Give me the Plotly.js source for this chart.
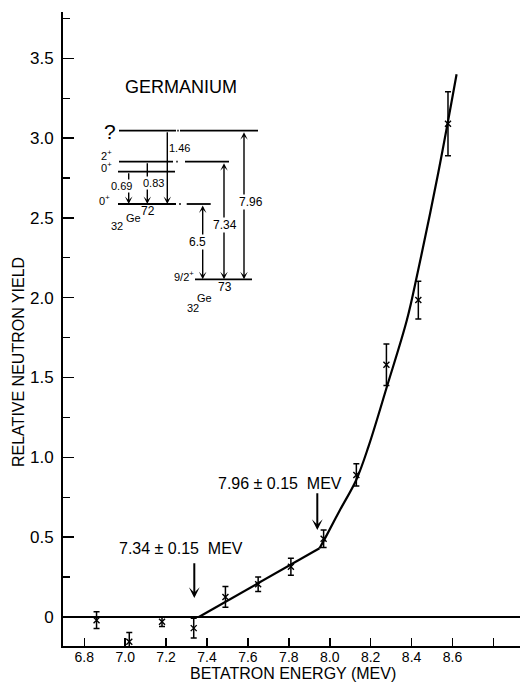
<!DOCTYPE html>
<html><head><meta charset="utf-8">
<script src="https://cdn.plot.ly/plotly-3.0.1.min.js"></script>
<style>html,body{margin:0;padding:0;background:#fff}#chart{width:520px;height:683px}</style>
</head><body><div id="chart"></div>
<script>
// ---- data ----
const energy    = [6.86, 7.02, 7.18, 7.335, 7.49, 7.65, 7.81, 7.97, 8.13, 8.277, 8.433, 8.578];
const yieldVals = [-0.02, -0.155, -0.03, -0.07, 0.125, 0.205, 0.315, 0.49, 0.89, 1.58, 1.985, 3.09];
const yieldErr  = [0.053, 0.057, 0.03, 0.062, 0.065, 0.045, 0.053, 0.055, 0.07, 0.13, 0.118, 0.2];
const linFitX   = [7.36, 7.95];
const linFitY   = [0, 0.43];
const curveFitX = [7.95, 7.98, 8.05, 8.13, 8.19, 8.28, 8.377, 8.43, 8.53, 8.62];
const curveFitY = [0.43, 0.50, 0.67, 0.86, 1.07, 1.445, 1.86, 2.16, 2.78, 3.40];
const xTickVals = [6.8, 7.0, 7.2, 7.4, 7.6, 7.8, 8.0, 8.2, 8.4, 8.6, 8.8];
const xTickText = ["6.8", "7.0", "7.2", "7.4", "7.6", "7.8", "8.0", "8.2", "8.4", "8.6", ""];
const yTickVals = [0, 0.5, 1.0, 1.5, 2.0, 2.5, 3.0, 3.5];
const yTickText = ["0", "0.5", "1.0", "1.5", "2.0", "2.5", "3.0", "3.5"];
const yMinorVals = [0.25, 0.75, 1.25, 1.75, 2.25, 2.75, 3.25, 3.75];

// ---- layout helpers (plot area: left 63, top 12, width 457, height 634) ----
const L = 63, T = 12, W = 457, H = 634;
const P = px => (px - L) / W;
const Q = py => (T + H - py) / H;
const FONT = "Liberation Sans, Arial, sans-serif";

const shapes = [];
function seg(x0, x1, y, w) {
  shapes.push({type: 'line', xref: 'paper', yref: 'paper', x0: P(x0), x1: P(x1), y0: Q(y), y1: Q(y),
               line: {color: 'black', width: w || 1.8}});
}
// energy level lines of the inset diagram
seg(119, 176, 130.7); seg(177.3, 178.7, 130.7); seg(180, 258, 130.7);
seg(119, 173, 161.7); seg(176.3, 177.7, 161.7); seg(185, 229, 161.7);
seg(118, 175, 171.7);
seg(118, 176, 204);   seg(179.3, 180.7, 204);   seg(186.7, 210.7, 204);
seg(195, 252, 279.3);

const annotations = [];
function arrow(x, yTail, yHead, both, w, size) {
  annotations.push({xref: 'paper', yref: 'paper', x: P(x), y: Q(yHead), ax: 0, ay: yTail - yHead,
    text: '', showarrow: true, arrowhead: 3, startarrowhead: 3, arrowsize: size || 0.9, startarrowsize: size || 0.9,
    arrowwidth: w || 1.4, arrowcolor: 'black', arrowside: both ? 'end+start' : 'end', standoff: 0, startstandoff: 0});
}
function label(x, y, text, size, bg) {
  annotations.push({xref: 'paper', yref: 'paper', x: P(x), y: Q(y), text: text, showarrow: false,
    xanchor: 'center', yanchor: 'middle', font: {family: FONT, size: size, color: 'black'},
    bgcolor: bg ? 'white' : 'rgba(0,0,0,0)', borderpad: 0});
}
// inset arrows
arrow(128.7, 171.7, 204, false);
arrow(147.3, 161.7, 204, false);
arrow(167.3, 130.7, 204, false);
arrow(202.7, 204, 279.3, true);
arrow(224, 161.7, 279.3, true);
arrow(244, 130.7, 279.3, true);
// main-plot arrows
arrow(317.3, 491.7, 530, false, 2, 0.9);
arrow(194.3, 561.7, 598, false, 2, 0.9);

// inset labels
label(181, 87, 'GERMANIUM', 18);
label(110, 131, '?', 21);
label(106, 155, '2<sup>+</sup>', 11);
label(106, 167, '0<sup>+</sup>', 11);
label(104, 200, '0<sup>+</sup>', 11);
label(121, 186, '0.69', 11, true);
label(153, 183, '0.83', 11, true);
label(179, 148, '1.46', 11);
label(117, 226, '32', 11);
label(133, 218, 'Ge', 11);
label(148, 211, '72', 12);
label(197, 242, '6.5', 12, true);
label(225, 225, '7.34', 12, true);
label(251, 202, '7.96', 12, true);
label(184, 276, '9/2<sup>+</sup>', 11);
label(225, 287, '73', 12);
label(193, 308, '32', 11);
label(204, 298, 'Ge', 11);
// main labels
label(280, 483, '7.96 ± 0.15\u00a0\u00a0MEV', 16);
label(181, 548, '7.34 ± 0.15\u00a0\u00a0MEV', 16);
// axis titles
label(292.5, 673, 'BETATRON ENERGY (MEV)', 16);
annotations.push({xref: 'paper', yref: 'paper', x: P(18), y: Q(362), text: 'RELATIVE NEUTRON YIELD',
  showarrow: false, textangle: -90, xanchor: 'center', yanchor: 'middle',
  font: {family: FONT, size: 16, color: 'black'}});

const traces = [
  {x: linFitX, y: linFitY, mode: 'lines', line: {color: 'black', width: 2.2}, hoverinfo: 'skip'},
  {x: curveFitX, y: curveFitY, mode: 'lines', line: {color: 'black', width: 2.2, shape: 'spline', smoothing: 1}, hoverinfo: 'skip'},
  {x: energy, y: yieldVals, mode: 'markers', cliponaxis: false,
   marker: {symbol: 'x-thin-open', size: 6, color: 'black', line: {color: 'black', width: 1.4}},
   error_y: {type: 'data', array: yieldErr, visible: true, color: 'black', thickness: 1.5, width: 3}}
];

const layout = {
  width: 520, height: 683, margin: {l: L, r: 0, t: T, b: 683 - T - H},
  paper_bgcolor: 'white', plot_bgcolor: 'white', showlegend: false,
  font: {family: FONT, color: 'black'},
  xaxis: {range: [6.696, 8.93], tickmode: 'array', tickvals: xTickVals, ticktext: xTickText,
    ticks: 'inside', ticklen: 8, tickwidth: 1.5, tickcolor: 'black',
    showline: true, linecolor: 'black', linewidth: 2, showgrid: false, zeroline: false,
    tickfont: {family: FONT, size: 14, color: 'black'}, ticklabelstandoff: -3},
  yaxis: {range: [-0.182, 3.79], tickmode: 'array', tickvals: yTickVals, ticktext: yTickText,
    ticks: 'inside', ticklen: 11, tickwidth: 1.5, tickcolor: 'black',
    minor: {tickmode: 'array', tickvals: yMinorVals, ticks: 'inside', ticklen: 7, tickwidth: 1.3, tickcolor: 'black', showgrid: false},
    showline: true, linecolor: 'black', linewidth: 2, showgrid: false,
    zeroline: true, zerolinecolor: 'black', zerolinewidth: 1.6,
    tickfont: {family: FONT, size: 17, color: 'black'}, ticklabelstandoff: 4},
  shapes: shapes, annotations: annotations
};

Plotly.newPlot('chart', traces, layout, {staticPlot: true, displayModeBar: false});
</script></body></html>
